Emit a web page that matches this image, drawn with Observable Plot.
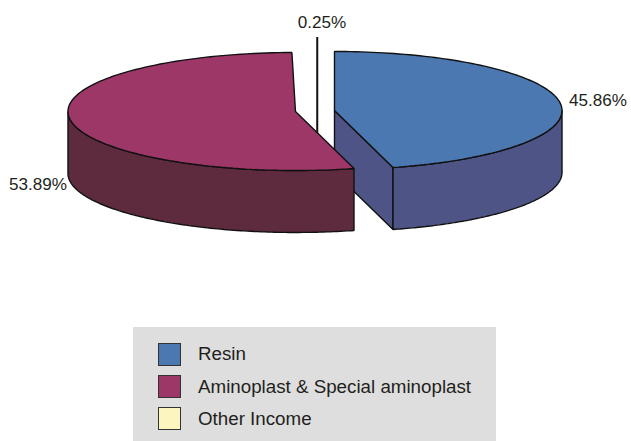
<!DOCTYPE html>
<html>
<head>
<meta charset="utf-8">
<script src="https://cdn.jsdelivr.net/npm/d3@7"></script>
<script src="https://cdn.jsdelivr.net/npm/@observablehq/plot@0.6"></script>
<style>
  html, body { margin: 0; padding: 0; background: #fff; overflow: hidden; }
  svg { display: block; }
  #legend { position: relative; margin-left: 133px; width: 363px; height: 114px; background: #dedede;
            font: 18.75px "Liberation Sans", Arial, sans-serif; color: #231f20; }
  #legend .row { position: absolute; left: 24.5px; height: 23px; display: flex; align-items: center; }
  #legend .sw { box-sizing: border-box; width: 23px; height: 23px; border: 1.8px solid #333; margin-right: 17.5px; }
</style>
</head>
<body>
<div id="chart"></div>
<div id="legend"></div>
<script>
// Income split
const categories = ["Resin", "Aminoplast & Special aminoplast", "Other Income"];
const shares = [45.86, 53.89, 0.25];
const topColors = ["#4c78b2", "#9d3768", "#fdf5c0"];
const wallColors = ["#4e5485", "#5e2a3d", "#fdf5c0"];

// How far each slice is pulled out of the pie, in pie radii
const pullX = [0.0835, -0.088, 0.0155];
const pullY = [0, 0.017, -0.237];
const thickness = 1.05;

// Running start and end angle of each slice, clockwise from twelve o'clock
let running = 0;
const slices = categories.map((name, i) => {
  const start = running / 100 * 2 * Math.PI;
  running += shares[i];
  const end = running / 100 * 2 * Math.PI;
  return {name, share: shares[i], start, end, cx: pullX[i], cy: pullY[i], top: topColors[i], wall: wallColors[i]};
});

const rim = (s, a, drop = 0) => ({x: s.cx + Math.sin(a), y: s.cy - Math.cos(a) + drop});
const arc = (s, a0, a1, drop = 0) => d3.range(0, 121).map(k => rim(s, a0 + (a1 - a0) * k / 120, drop));
const hub = (s, drop = 0) => ({x: s.cx, y: s.cy + drop});
const closed = pts => [...pts, pts[0]];

const face = (pts, fill) => Plot.line(closed(pts), {
  x: "x", y: "y", fill, stroke: "#111", strokeWidth: 1.4, curve: "linear", strokeLinejoin: "miter"
});

const [resin, amino, other] = slices;
const QUARTER = Math.PI / 2;

const marks = [
  // The smallest slice is too thin to show a face, so it reads as a single stroke
  Plot.ruleX([other], {
    x: s => rim(s, (s.start + s.end) / 2).x,
    y1: s => rim(s, (s.start + s.end) / 2).y,
    y2: s => hub(s, thickness).y,
    stroke: "#111", strokeWidth: 2
  }),

  // Resin: cut face, outer wall, top
  face([hub(resin), rim(resin, resin.end), rim(resin, resin.end, thickness), hub(resin, thickness)], resin.wall),
  face([...arc(resin, QUARTER, resin.end), ...arc(resin, resin.end, QUARTER, thickness)], resin.wall),
  face([hub(resin), ...arc(resin, resin.start, resin.end)], resin.top),

  // Aminoplast: outer wall, top
  face([...arc(amino, amino.start, 3 * QUARTER), ...arc(amino, 3 * QUARTER, amino.start, thickness)], amino.wall),
  face([hub(amino), ...arc(amino, amino.start, amino.end)], amino.top),

  // Percentage labels
  Plot.text([other], {
    x: s => rim(s, s.end).x, y: s => rim(s, s.end).y,
    text: s => s.share.toFixed(2) + "%", dx: 3, dy: -15, textAnchor: "middle"
  }),
  Plot.text([resin], {
    x: s => rim(s, QUARTER).x, y: s => rim(s, QUARTER).y,
    text: s => s.share.toFixed(2) + "%", dx: 7, dy: -10, textAnchor: "start"
  }),
  Plot.text([amino], {
    x: s => rim(s, 3 * QUARTER).x, y: s => rim(s, 3 * QUARTER, thickness).y,
    text: s => s.share.toFixed(2) + "%", dx: -1, dy: 11, textAnchor: "end"
  })
];

const chart = Plot.plot({
  width: 631, height: 327,
  margin: 0,
  style: {background: "transparent", fontFamily: "'Liberation Sans', Arial, sans-serif", fontSize: "17.1px", color: "#231f20"},
  x: {domain: [-1, 1], range: [87.5, 542.5], axis: null},
  y: {domain: [-1, 1], range: [51, 169], axis: null},
  marks
});
document.getElementById("chart").append(chart);

// Legend panel under the pie
const legend = d3.select("#legend");
slices.forEach((s, i) => {
  const row = legend.append("div").attr("class", "row").style("top", `${15.7 + i * 32.3}px`);
  row.append("div").attr("class", "sw").style("background", s.top);
  row.append("div").text(s.name);
});
</script>
</body>
</html>
